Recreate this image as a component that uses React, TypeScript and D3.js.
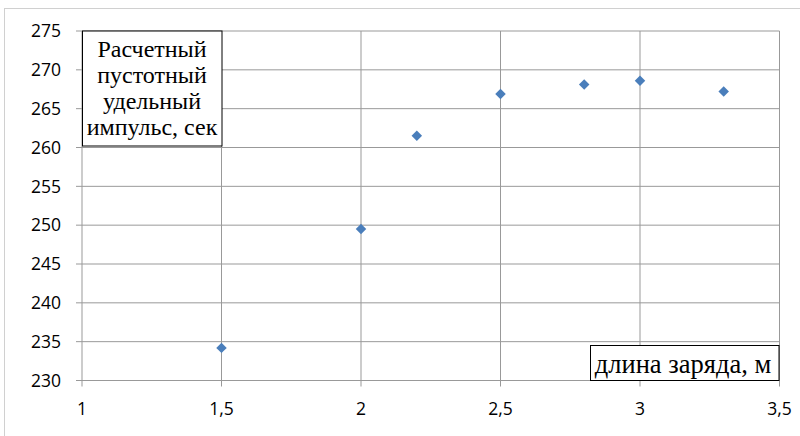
import React from "react";
import * as d3 from "d3";

// Charge length, m
const chargeLength = [1.5, 2.0, 2.2, 2.5, 2.8, 3.0, 3.3];
// Calculated vacuum specific impulse, s
const specificImpulse = [234.2, 249.5, 261.5, 266.9, 268.1, 268.6, 267.2];

const xTicks = [1, 1.5, 2, 2.5, 3, 3.5];
const yTicks = [230, 235, 240, 245, 250, 255, 260, 265, 270, 275];

const yTitleLines = ["Расчетный", "пустотный", "удельный", "импульс, сек"];
const xTitle = "длина заряда, м";

const W = 800;
const H = 436;
const plot = { left: 82, right: 779.5, top: 31, bottom: 380.5 };

const fmt = (v: number) => String(v).replace(".", ",");

const tickStyle = { fontFamily: "'Open Sans', sans-serif", fontSize: "17.5px" };
const serifStyle = { fontFamily: "'Liberation Serif', 'DejaVu Serif', serif", fontSize: "24px" };
const xTitleStyle = { ...serifStyle, fontSize: "26.5px" };

export default function App() {
  const x = d3.scaleLinear().domain([1, 3.5]).range([plot.left, plot.right]);
  const y = d3.scaleLinear().domain([230, 275]).range([plot.bottom, plot.top]);
  const diamond = d3.symbol().type(d3.symbolDiamond2).size(70)();

  return (
    <svg
      width={W}
      height={H}
      style={{ position: "absolute", left: 0, top: 0, background: "#fff" }}
    >
      <rect x={4.5} y={8.5} width={W + 10} height={H + 10} fill="#fff" stroke="#d0d0d0" />

      {/* gridlines */}
      {yTicks.map((t) => (
        <line
          key={"gy" + t}
          x1={plot.left}
          x2={plot.right}
          y1={y(t)}
          y2={y(t)}
          stroke="#999"
          strokeWidth={1}
        />
      ))}
      {xTicks.map((t) => (
        <line
          key={"gx" + t}
          x1={x(t)}
          x2={x(t)}
          y1={plot.top}
          y2={plot.bottom}
          stroke="#999"
          strokeWidth={1}
        />
      ))}

      {/* axis tick marks */}
      {yTicks.map((t) => (
        <line key={"ty" + t} x1={plot.left - 6} x2={plot.left} y1={y(t)} y2={y(t)} stroke="#999" />
      ))}
      {xTicks.map((t) => (
        <line key={"tx" + t} x1={x(t)} x2={x(t)} y1={plot.bottom} y2={plot.bottom + 6} stroke="#999" />
      ))}

      {/* tick labels */}
      {yTicks.map((t) => (
        <text key={"ly" + t} x={61} y={y(t)} dy="0.36em" textAnchor="end" style={tickStyle} fill="#000">
          {t}
        </text>
      ))}
      {xTicks.map((t) => (
        <text key={"lx" + t} x={x(t)} y={415} textAnchor="middle" style={tickStyle} fill="#000">
          {fmt(t)}
        </text>
      ))}

      {/* data points */}
      {chargeLength.map((v, i) => (
        <path
          key={"p" + i}
          d={diamond as string}
          transform={`translate(${x(v)},${y(specificImpulse[i])})`}
          fill="#4a7ebb"
        />
      ))}

      {/* y-axis title box */}
      <rect x={82.5} y={31} width={139.5} height={115} fill="#fff" stroke="#000" strokeWidth={1} />
      {yTitleLines.map((s, i) => (
        <text key={"yt" + i} x={152} y={57 + i * 26} textAnchor="middle" style={serifStyle} fill="#000">
          {s}
        </text>
      ))}

      {/* x-axis title box */}
      <rect x={590.5} y={345.5} width={188.5} height={35} fill="#fff" stroke="#000" strokeWidth={1} />
      <text x={683} y={373} textAnchor="middle" style={xTitleStyle} fill="#000">
        {xTitle}
      </text>
    </svg>
  );
}
